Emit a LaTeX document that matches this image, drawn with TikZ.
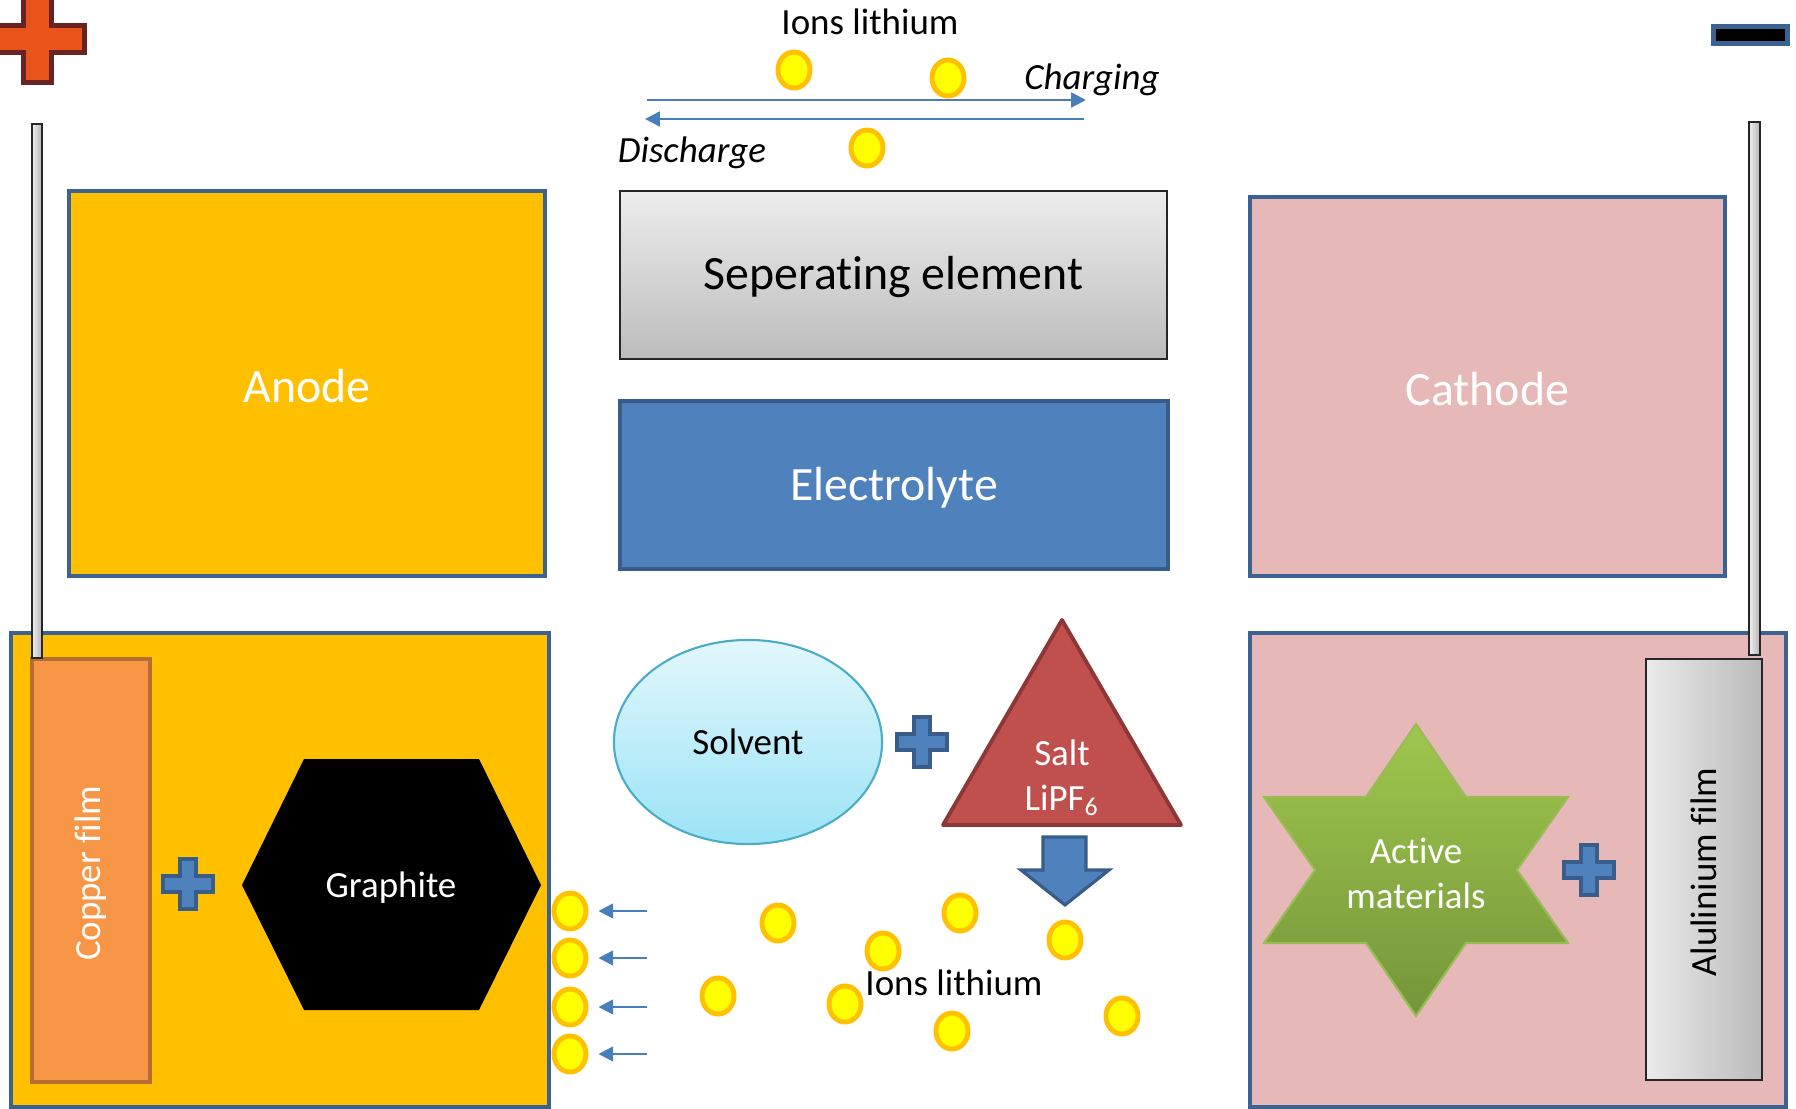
\documentclass[tikz,border=0pt]{standalone}
\usepackage{fontspec}
\setmainfont{Carlito}[Ligatures=NoCommon]
\usetikzlibrary{shapes.geometric,arrows.meta,calc}
\definecolor{orangeA}{HTML}{FFC000}
\definecolor{bordbleu}{HTML}{3C6292}
\definecolor{roseC}{HTML}{E6B9B8}
\definecolor{bleuE}{HTML}{4F81BD}
\definecolor{bordE}{HTML}{385D8A}
\definecolor{cuivre}{HTML}{F79646}
\definecolor{bordcuivre}{HTML}{B66D31}
\definecolor{sel}{HTML}{C0504D}
\definecolor{bordsel}{HTML}{8C3836}
\definecolor{solvH}{HTML}{E2F7FC}
\definecolor{solvB}{HTML}{9BE3F6}
\definecolor{solvBord}{HTML}{4BACC6}
\definecolor{vertH}{HTML}{9FC74D}
\definecolor{vertB}{HTML}{75953A}
\definecolor{vertBord}{HTML}{9BBB59}
\definecolor{sepH}{HTML}{EDEDED}
\definecolor{sepB}{HTML}{BCBCBC}
\definecolor{croixR}{HTML}{E8541A}
\definecolor{croixRbord}{HTML}{6A2323}
\definecolor{ionJ}{HTML}{FFFF00}
\definecolor{ionBord}{HTML}{FFC000}
\definecolor{flecheB}{HTML}{4A7EBB}
\tikzset{
    boite/.style={draw=bordbleu, line width=1.1pt},
    texte/.style={font=\fontsize{10.5}{12.8}\selectfont, yshift=-0.8pt},
    titre/.style={font=\fontsize{13.6}{16}\selectfont, yshift=-0.7pt},
    ion/.style={ellipse, draw=ionBord, fill=ionJ, line width=1.4pt,
      minimum width=0.32cm, minimum height=0.36cm, inner sep=0pt},
    fleche/.style={draw=flecheB, line width=0.7pt, -{Triangle[length=4.2pt,width=4.2pt]}},
    film/.style={draw=black!85, line width=0.6pt},
    croix/.pic={
      \draw[fill=bleuE, draw=bordE, line width=0.9pt] (-8,-25) -- (8,-25) -- (8,-8) -- (25,-8) -- (25,8)
        -- (8,8) -- (8,25) -- (-8,25) -- (-8,8) -- (-25,8) -- (-25,-8) -- (-8,-8) -- cycle;
    },
  }
\begin{document}
\begin{tikzpicture}[x=0.01cm, y=-0.01cm]
          \useasboundingbox (0,0) rectangle (1796,1109);
          \clip (0,0) rectangle (1796,1109);

          %BORNES + et -
          \draw[fill=croixR, draw=croixRbord, line width=1.4pt] (23.5,-10) -- (51.5,-10) -- (51.5,25.5) -- (84.5,25.5)
             -- (84.5,52.5) -- (51.5,52.5) -- (51.5,82.5) -- (23.5,82.5) -- (23.5,52.5) -- (-12,52.5) -- (-12,25.5)
             -- (23.5,25.5) -- cycle;
          \draw[fill=black, draw=bordbleu, line width=1.4pt] (1713.5,26.5) rectangle (1787.5,43.5);

          %charge / decharge
          \node[texte] (ionsH) at (870,19) {Ions lithium};
          \coordinate (chA) at (647,100);
          \coordinate (chB) at (1086,100);
          \coordinate (deA) at (1084,119);
          \coordinate (deB) at (645,119);
          \draw[fleche] (chA) -- (chB);
          \draw[fleche] (deA) -- (deB);
          \node[texte] (charge) at (1092,77) {\itshape Charging};
          \node[texte] (decharge) at (692,150) {\itshape Discharge};
          \node[ion] (ionH1) at (794,70) {};
          \node[ion] (ionH2) at (948,78) {};
          \node[ion] (ionH3) at (867,148) {};

          %BOITES du haut
          \draw[boite, fill=orangeA] (69,191) rectangle (545,576) node[midway, titre, white] (anode) {Anode};
          \draw[film, top color=sepH, bottom color=sepB] (620,191) rectangle (1167,359)
             node[midway, titre, black] (sep) {Seperating element};
          \draw[fill=bleuE, draw=bordE, line width=1.3pt] (620,401) rectangle (1168,569)
             node[midway, titre, white] (elec) {Electrolyte};
          \draw[boite, fill=roseC] (1250,197) rectangle (1725,576) node[midway, titre, white] (cathode) {Cathode};

          %ANODE
          \draw[boite, fill=orangeA] (11,633) rectangle (549,1107);
          \draw[fill=cuivre, draw=bordcuivre, line width=1.1pt] (32,659) rectangle (150,1082)
             node[midway, texte, white, rotate=90] (cuivre) {Copper film};
          \pic at (188,884) {croix};
          \fill[black] (242,885) -- (304,759) -- (479,759) -- (541,885) -- (479,1010) -- (304,1010) -- cycle;
          \node[texte, white] (graphite) at (391,885) {Graphite};

          %ELECTROLYTE
          \node[ellipse, draw=solvBord, line width=0.6pt, top color=solvH, bottom color=solvB,
             minimum width=2.68cm, minimum height=2.04cm, font=\fontsize{10.5}{12.8}\selectfont] (solvant) at (748,742) {Solvent};
          \pic at (922,742) {croix};
          \draw[fill=sel, draw=bordsel, line width=1.1pt, line join=round] (1062,620) -- (1181,825) -- (943,825) -- cycle;
          \node[texte, white, align=center] (sel) at (1062,775) {Salt\\LiPF\textsubscript{6}};
          \draw[fill=bleuE, draw=bordE, line width=0.9pt] (1043,837) -- (1086,837) -- (1086,870) -- (1109,870)
             -- (1065,905) -- (1021,870) -- (1043,870) -- cycle;

          %ions lithium
          \foreach \y [count=\k] in {911,958,1007,1054}{
            \node[ion] (ionG\k) at (570,\y) {};
            \draw[fleche] ($(ionG\k.east)+(59,0)$) -- ($(ionG\k.east)+(10,0)$);
          }
          \foreach \x/\y [count=\k] in {778/923,960/913,883/951,1065/940,718/996,845/1004,952/1031,1122/1016}
            \node[ion] (ion\k) at (\x,\y) {};
          \node[texte] (ionsB) at (954,980) {Ions lithium};

          %CATHODE
          \draw[boite, fill=roseC] (1250,633) rectangle (1786,1107);
          \draw[draw=vertBord, line width=0.6pt, top color=vertH, bottom color=vertB]
             (1416,724) -- (1466,797) -- (1568,797) -- (1517,870) -- (1568,943) -- (1466,943)
             -- (1416,1016) -- (1366,943) -- (1264,943) -- (1315,870) -- (1264,797) -- (1366,797) -- cycle;
          \node[texte, white, align=center] (actif) at (1416,871) {Active\\materials};
          \pic at (1589,870) {croix};
          \draw[film, left color=black!8, right color=black!27] (1646,659) rectangle (1762,1080)
             node[midway, texte, black, rotate=90] (alu) {Alulinium film};

          %fils
          \draw[film, left color=black!6, right color=black!30] (32,124) rectangle (42,658);
          \draw[film, left color=black!6, right color=black!30] (1749,122) rectangle (1760,655);
\end{tikzpicture}
\end{document}
